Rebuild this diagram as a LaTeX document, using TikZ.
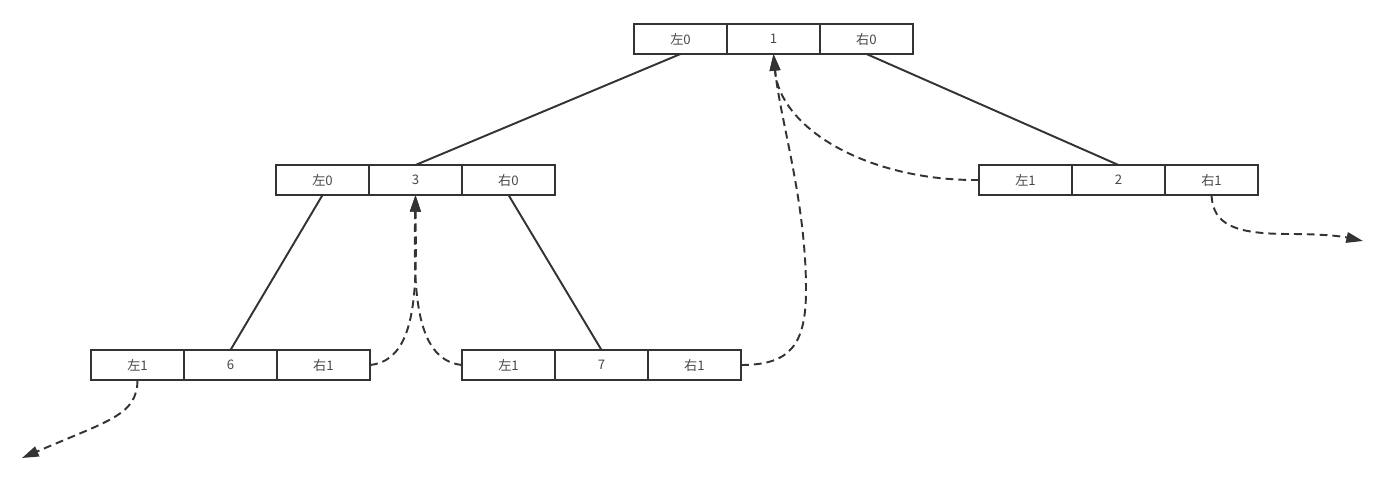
\documentclass[tikz,border=0pt]{standalone}
\usepackage{fontspec}
\newfontfamily\cjk{Noto Sans CJK SC}
\usepackage{tikz}
\usetikzlibrary{positioning,arrows.meta}
\definecolor{ink}{HTML}{333333}
\tikzstyle{cell} = [rectangle, minimum width=1.86cm, minimum height=0.6cm, inner sep=0pt, outer sep=0pt, text centered, draw=ink, line width=1.1pt, text=ink!90, font=\cjk\fontsize{7.5}{9}\selectfont]
\tikzstyle{edge} = [draw=ink, line width=1.1pt]
\tikzstyle{thread} = [draw=ink, line width=1.1pt, dash pattern=on 4.5pt off 2.8pt, -{Triangle[length=9.5pt,width=6pt]}]

\begin{document}
\begin{tikzpicture}[x=0.02cm, y=-0.02cm, node distance=1.86cm]
\useasboundingbox (0,0) rectangle (1383,481);
% root
\node (r) [cell] at (773.5,39) {1};
\node (rl) [cell, left of=r] {左0};
\node (rr) [cell, right of=r] {右0};
% second level
\node (a) [cell] at (415.5,180) {3};
\node (al) [cell, left of=a] {左0};
\node (ar) [cell, right of=a] {右0};
\node (b) [cell] at (1118.5,180) {2};
\node (bl) [cell, left of=b] {左1};
\node (br) [cell, right of=b] {右1};
% leaves
\node (c) [cell] at (230.5,365) {6};
\node (cl) [cell, left of=c] {左1};
\node (cr) [cell, right of=c] {右1};
\node (d) [cell] at (601.5,365) {7};
\node (dl) [cell, left of=d] {左1};
\node (dr) [cell, right of=d] {右1};
\coordinate (cend) at (22,458);
\coordinate (bend) at (1363,241);
% tree edges
\draw [edge] (rl.south) -- (a.north);
\draw [edge] (rr.south) -- (b.north);
\draw [edge] (al.south) -- (c.north);
\draw [edge] (ar.south) -- (d.north);
% threads
\draw [thread] (cr.east) .. controls (420,360) and (416,280) .. (a.south);
\draw [thread] (dl.west) .. controls (412,360) and (414,280) .. (a.south);
\draw [thread] (dr.east) .. controls (790,365) and (806,345) .. (806,290) .. controls (806,200) and (780,120) .. (r.south);
\draw [thread] (bl.west) .. controls (870,181) and (780,130) .. (r.south);
\draw [thread] (br.south) .. controls (1213,225) and (1235,234) .. (1290,234) .. controls (1320,234) and (1340,236) .. (bend);
\draw [thread] (cl.south) .. controls (137,415) and (110,420) .. (cend);
\end{tikzpicture}
\end{document}
